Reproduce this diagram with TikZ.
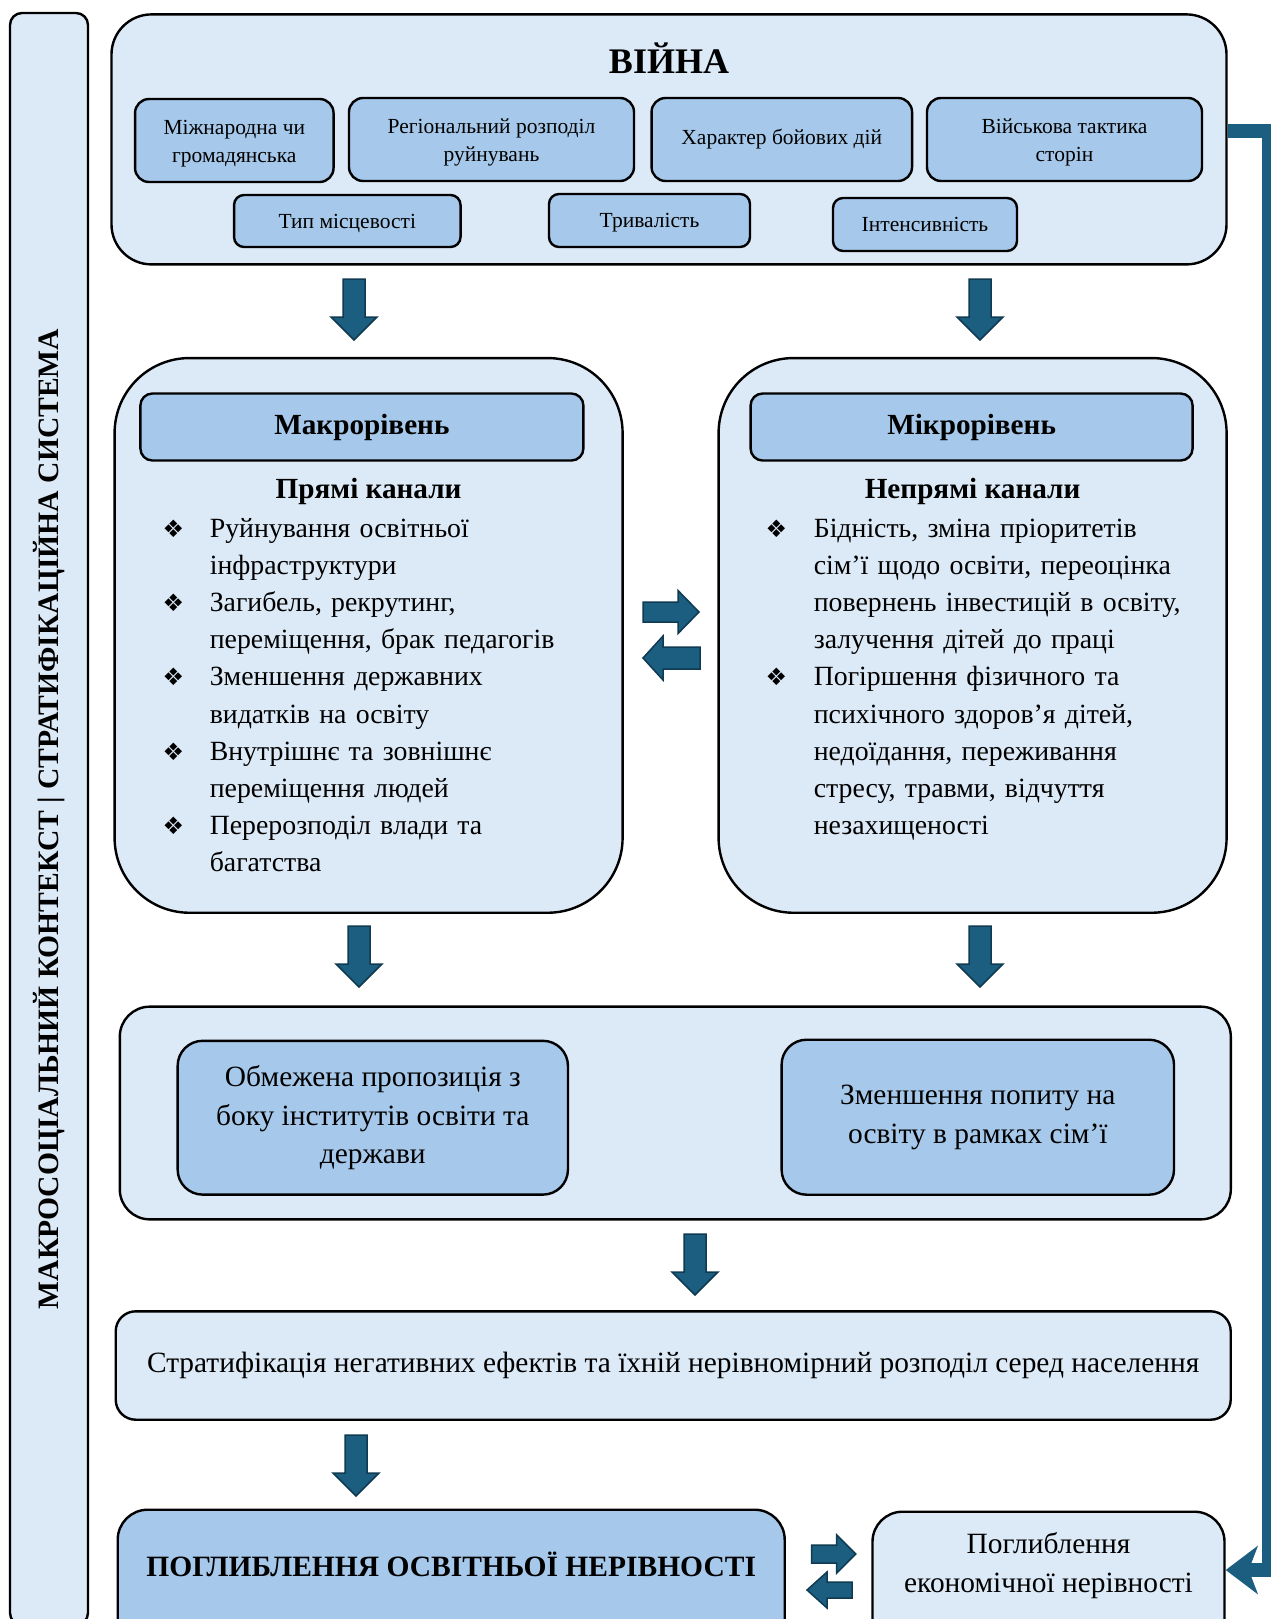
\documentclass[tikz,border=0pt]{standalone}
\usepackage{fontspec}
\setmainfont{Liberation Serif}
\newfontfamily\symfont{DejaVu Sans}
\usetikzlibrary{arrows.meta,calc}
\definecolor{lightfill}{HTML}{DCE9F6}
\definecolor{midfill}{HTML}{A6C8EA}
\definecolor{arrfill}{HTML}{1B5E80}
\definecolor{arrline}{HTML}{0F3A52}
\tikzset{
  bx/.style={draw=black, line width=2.4pt, inner sep=0pt, align=center},
  lbox/.style={bx, fill=lightfill},
  mbox/.style={bx, fill=midfill},
  smalltxt/.style={font=\fontsize{21.5}{28}\selectfont},
  bodytxt/.style={font=\fontsize{27.8}{37.2}\selectfont},
  bigtxt/.style={font=\fontsize{29.4}{38.7}\selectfont},
  boldtxt/.style={font=\bfseries\fontsize{29.2}{29}\selectfont},
  blockarr/.style={fill=arrfill, draw=arrline, line width=1.5pt, line join=miter},
  listitem/.style={bodytxt, anchor=base west, align=left, inner sep=0pt, text width=430pt},
  bul/.style={font=\symfont\fontsize{24}{24}\selectfont, anchor=base, inner sep=0pt},
  smalllab/.style={smalltxt, align=center, inner sep=0pt},
  pics/downarr/.style={code={\draw[blockarr] (-11,0) -- (11,0) -- (11,38) -- (23,38) -- (0,61) -- (-23,38) -- (-11,38) -- cycle;}},
  feedback/.style={draw=arrfill, line width=14pt, line join=miter, -{Stealth[length=32pt,width=48pt,inset=9pt]}},
}
\begin{document}
\begin{tikzpicture}[x=1pt, y=-1pt]
\useasboundingbox (0,0) rectangle (1271,1619);

% war box and economic box, then feedback connector
\node[lbox, rounded corners=40, minimum width=1115, minimum height=250] (vijna) at (669,139.4) {};
\node[lbox, rounded corners=30, minimum width=352, minimum height=200, anchor=north] (econ) at (1048.5,1510.5) {};
\coordinate (fbtop) at (1269,131);
\coordinate (fbbot) at (1269,1570);
\draw[feedback] (vijna.east |- fbtop) -- (fbtop) -- (fbbot) -- (econ.east |- fbbot);

% side bar
\node[lbox, rounded corners=12, minimum width=1612, minimum height=78, rotate=90,
      font=\bfseries\fontsize{29.6}{29.6}\selectfont] (side) at (49,819)
      {МАКРОСОЦІАЛЬНИЙ КОНТЕКСТ | СТРАТИФІКАЦІЙНА СИСТЕМА};

% war block
\node[font=\bfseries\fontsize{36}{36}\selectfont] (vtitle) at (669,58) {ВІЙНА};
\node[mbox, rounded corners=14, minimum width=198.5, minimum height=83,
      label={[name=b1t, smalllab, yshift=-3pt]center:Міжнародна чи\\громадянська}] (b1) at (234.3,140.5) {};
\node[mbox, rounded corners=14, minimum width=285, minimum height=83,
      label={[name=b2t, smalllab, yshift=-3pt]center:Регіональний розподіл\\руйнувань}] (b2) at (491.5,139.5) {};
\node[mbox, smalltxt, rounded corners=14, minimum width=260.5, minimum height=83] (b3) at (781.8,139.5) {Характер бойових дій};
\node[mbox, rounded corners=14, minimum width=275, minimum height=83,
      label={[name=b4t, smalllab, yshift=-3pt]center:Військова тактика\\сторін}] (b4) at (1064.5,139.5) {};
\node[mbox, rounded corners=10, minimum width=226.5, minimum height=52,
      label={[name=c1t, smalllab, yshift=-2pt]center:Тип місцевості}] (c1) at (347.3,221) {};
\node[mbox, rounded corners=10, minimum width=201, minimum height=53,
      label={[name=c2t, smalllab, yshift=-2.5pt]center:Тривалість}] (c2) at (649.5,220.5) {};
\node[mbox, smalltxt, rounded corners=10, minimum width=184, minimum height=53] (c3) at (925,224.5) {Інтенсивність};

\pic at (354,279) {downarr};
\pic at (980,279) {downarr};

% macro level
\node[lbox, rounded corners=75, minimum width=508, minimum height=554.7] (macro) at (368.6,635.4) {};
\node[mbox, boldtxt, rounded corners=12, minimum width=443, minimum height=67] (macroh) at (361.9,427) {Макрорівень};
\node[boldtxt] (pryami) at (368.6,491.5) {Прямі канали};
\node[bul] (mb1) at (173.5,537) {❖};
\node[listitem] (m1) at (209.6,537) {Руйнування освітньої\\інфраструктури};
\node[bul] (mb2) at (173.5,611.4) {❖};
\node[listitem] (m2) at (209.6,611.4) {Загибель, рекрутинг,\\переміщення, брак педагогів};
\node[bul] (mb3) at (173.5,685.8) {❖};
\node[listitem] (m3) at (209.6,685.8) {Зменшення державних\\видатків на освіту};
\node[bul] (mb4) at (173.5,760.2) {❖};
\node[listitem] (m4) at (209.6,760.2) {Внутрішнє та зовнішнє\\переміщення людей};
\node[bul] (mb5) at (173.5,834.6) {❖};
\node[listitem] (m5) at (209.6,834.6) {Перерозподіл влади та\\багатства};

% micro level
\node[lbox, rounded corners=75, minimum width=508, minimum height=554.7] (micro) at (972.6,635.4) {};
\node[mbox, boldtxt, rounded corners=12, minimum width=442, minimum height=67] (microh) at (971.6,427) {Мікрорівень};
\node[boldtxt] (nepryami) at (972.6,491.5) {Непрямі канали};
\node[bul] (nb1) at (776.4,537) {❖};
\node[listitem] (n1) at (813.6,537) {Бідність, зміна пріоритетів\\сім’ї щодо освіти, переоцінка\\повернень інвестицій в освіту,\\залучення дітей до праці};
\node[bul] (nb2) at (776.4,685.8) {❖};
\node[listitem] (n2) at (813.6,685.8) {Погіршення фізичного та\\психічного здоров’я дітей,\\недоїдання, переживання\\стресу, травми, відчуття\\незахищеності};

% exchange arrows (middle)
\draw[blockarr, shift={(643,612)}] (0,-10) -- (35,-10) -- (35,-21.5) -- (56,0) -- (35,21.5) -- (35,10) -- (0,10) -- cycle;
\draw[blockarr, shift={(643,658)}] (0,0) -- (20,-22) -- (20,-11) -- (57,-11) -- (57,11) -- (20,11) -- (20,22) -- cycle;

\pic at (359,926) {downarr};
\pic at (980,926) {downarr};

% supply / demand
\node[lbox, rounded corners=30, minimum width=1111, minimum height=212.7] (sd) at (675.3,1113) {};
\node[mbox, bigtxt, rounded corners=25, minimum width=390.3, minimum height=153.8] (supl) at (372.8,1117.7) {Обмежена пропозиція з\\боку інститутів освіти та\\держави};
\node[mbox, bigtxt, rounded corners=25, minimum width=392.4, minimum height=155] (dem) at (977.8,1117.2) {Зменшення попиту на\\освіту в рамках сім’ї};

\pic at (695,1234) {downarr};

\node[lbox, bigtxt, rounded corners=20, minimum width=1115, minimum height=108.4] (strat) at (673.2,1365.5) {Стратифікація негативних ефектів та їхній нерівномірний розподіл серед населення};

\pic at (356,1435) {downarr};

% bottom
\node[mbox, rounded corners=30, minimum width=667, minimum height=200, anchor=north] (edu) at (451.2,1508.5) {};
\node[font=\bfseries\fontsize{29.5}{29.5}\selectfont] (edutxt) at (451.2,1564) {ПОГЛИБЛЕННЯ ОСВІТНЬОЇ НЕРІВНОСТІ};
\node[bigtxt, align=center] (econtxt) at (1048.5,1565.3) {Поглиблення\\економічної нерівності};

\draw[blockarr, shift={(811.7,1554)}] (0,-9) -- (25,-9) -- (25,-19) -- (44,0) -- (25,19) -- (25,9) -- (0,9) -- cycle;
\draw[blockarr, shift={(807,1590)}] (0,0) -- (20,-18) -- (20,-8) -- (45,-8) -- (45,8) -- (20,8) -- (20,18) -- cycle;
\end{tikzpicture}
\end{document}
